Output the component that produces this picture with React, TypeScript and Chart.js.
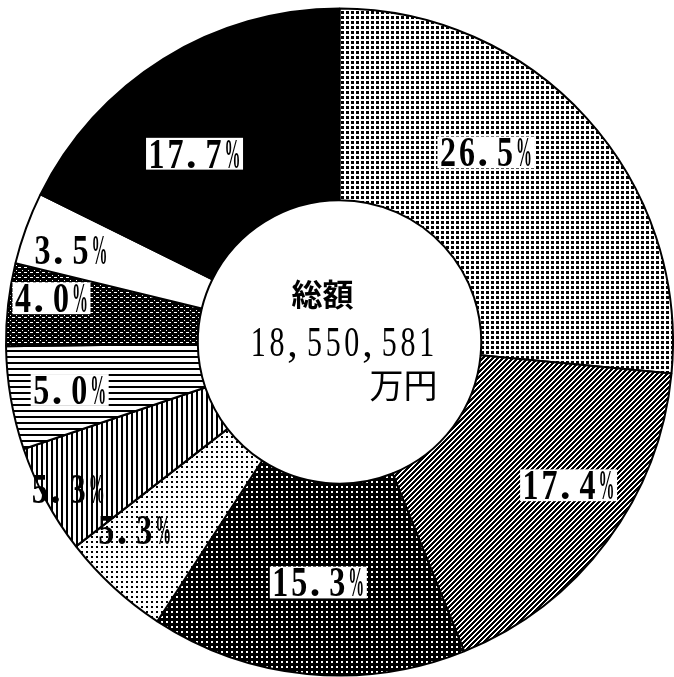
import React, { useEffect, useRef } from "react";
import { Chart, registerables } from "chart.js";

Chart.register(...registerables);

const categories = ["A", "B", "C", "D", "E", "F", "G", "H", "I"];
const shares = [26.5, 17.4, 15.3, 5.3, 5.3, 5.0, 4.0, 3.5, 17.7];
const shareLabels = ["26.5%", "17.4%", "15.3%", "5.3%", "5.3%", "5.0%", "4.0%", "3.5%", "17.7%"];
const totalTitle = "総額";
const totalValue = "18,550,581";
const totalUnit = "万円";

// label placement within each slice: fraction of the slice's angle and of the ring width
const labelAngleFrac = [0.395, 0.425, 0.49, 0.75, 0.49, 0.48, 0.65, 0.41, 0.41];
const labelRadiusFrac = [0.51, 0.67, 0.52, 0.71, 0.87, 0.69, 0.78, 0.74, 0.5];
const labelBoxed = [true, true, true, false, false, true, true, false, true];

function makePattern(w: number, h: number, draw: (c: CanvasRenderingContext2D) => void): CanvasPattern | string {
  const cv = document.createElement("canvas");
  cv.width = w;
  cv.height = h;
  const c = cv.getContext("2d")!;
  draw(c);
  const p = c.createPattern(cv, "repeat");
  return p || "#888";
}

function buildFills(): (CanvasPattern | string)[] {
  const dotsDark = makePattern(5, 5, (c) => {
    c.fillStyle = "#fff"; c.fillRect(0, 0, 5, 5);
    c.fillStyle = "#000"; c.fillRect(1, 1, 3, 3);
  });
  const diag = makePattern(5, 5, (c) => {
    c.fillStyle = "#fff"; c.fillRect(0, 0, 5, 5);
    c.fillStyle = "#000";
    for (let y = 0; y < 5; y++) {
      const x = (4 - y + 5) % 5;
      c.fillRect(x, y, 1, 1);
      c.fillRect((x + 1) % 5, y, 1, 1);
      c.fillRect((x + 2) % 5, y, 1, 1);
    }
  });
  const cross = makePattern(5, 5, (c) => {
    c.fillStyle = "#000"; c.fillRect(0, 0, 5, 5);
    c.fillStyle = "#fff"; c.fillRect(1, 1, 2, 2);
  });
  const dotsLight = makePattern(5, 5, (c) => {
    c.fillStyle = "#fff"; c.fillRect(0, 0, 5, 5);
    c.fillStyle = "#000"; c.fillRect(1, 1, 2, 2);
  });
  const vert = makePattern(5, 5, (c) => {
    c.fillStyle = "#fff"; c.fillRect(0, 0, 5, 5);
    c.fillStyle = "#000"; c.fillRect(1, 0, 2, 5);
  });
  const horiz = makePattern(6, 6, (c) => {
    c.fillStyle = "#fff"; c.fillRect(0, 0, 6, 6);
    c.fillStyle = "#000"; c.fillRect(0, 2, 6, 2);
  });
  const darkSpeck = makePattern(6, 5, (c) => {
    c.fillStyle = "#000"; c.fillRect(0, 0, 6, 5);
    c.fillStyle = "#fff";
    c.fillRect(0, 2, 3, 1);
    c.fillRect(4, 0, 1, 1);
  });
  return [dotsDark, diag, cross, dotsLight, vert, horiz, darkSpeck, "#ffffff", "#000000"];
}

function drawCells(
  ctx: CanvasRenderingContext2D,
  text: string,
  cx: number,
  cy: number,
  cell: number,
  size: number,
  maxInk: number,
  boxed: boolean,
  weight: string
) {
  const chars = Array.from(text);
  const total = chars.length * cell;
  const x0 = cx - total / 2;
  const digitH = size * 0.662;
  if (boxed) {
    ctx.fillStyle = "#fff";
    ctx.fillRect(x0 - 1, cy - digitH / 2 - 2, total + 2, digitH + 4);
  }
  ctx.fillStyle = "#000";
  ctx.font = `${weight} ${size}px "Liberation Serif", serif`;
  ctx.textBaseline = "alphabetic";
  chars.forEach((ch, i) => {
    const cellX = x0 + i * cell;
    if (ch === "." || ch === ",") {
      ctx.textAlign = "left";
      ctx.fillText(ch, cellX + cell * 0.05, cy + digitH / 2);
      return;
    }
    const w = ctx.measureText(ch).width;
    const sx = Math.min(1, maxInk / w);
    ctx.save();
    ctx.translate(cellX + cell / 2, cy + digitH / 2);
    ctx.scale(sx, 1);
    ctx.textAlign = "center";
    ctx.fillText(ch, 0, 0);
    ctx.restore();
  });
}

const labelPlugin = {
  id: "sliceLabels",
  afterDatasetsDraw(chart: any) {
    const ctx: CanvasRenderingContext2D = chart.ctx;
    const meta = chart.getDatasetMeta(0);
    let cxc = 0;
    let cyc = 0;
    meta.data.forEach((arc: any, i: number) => {
      const p = arc.getProps(["x", "y", "startAngle", "endAngle", "innerRadius", "outerRadius"], true);
      cxc = p.x;
      cyc = p.y;
      const a = p.startAngle + (p.endAngle - p.startAngle) * labelAngleFrac[i];
      const r = p.innerRadius + (p.outerRadius - p.innerRadius) * labelRadiusFrac[i];
      const lx = p.x + r * Math.cos(a);
      const ly = p.y + r * Math.sin(a);
      drawCells(ctx, shareLabels[i], lx, ly, 19, 42, 16, labelBoxed[i], "bold");
    });
    // centre text
    ctx.save();
    ctx.fillStyle = "#000";
    ctx.textAlign = "center";
    ctx.textBaseline = "middle";
    ctx.font = 'bold 31px "Noto Sans CJK JP", sans-serif';
    ctx.fillText(totalTitle, cxc - 17, cyc - 48);
    ctx.restore();
    drawCells(ctx, totalValue, cxc + 3, cyc, 18.7, 42, 15, false, "normal");
    ctx.save();
    ctx.fillStyle = "#000";
    ctx.textAlign = "center";
    ctx.textBaseline = "middle";
    ctx.font = '34px "Noto Sans CJK JP", sans-serif';
    ctx.fillText(totalUnit, cxc + 64, cyc + 43);
    ctx.restore();
  },
};

export default function App() {
  const ref = useRef<HTMLCanvasElement>(null);
  useEffect(() => {
    if (!ref.current) return;
    const fills = buildFills();
    const chart = new Chart(ref.current, {
      type: "doughnut",
      data: {
        labels: categories,
        datasets: [
          {
            data: shares,
            backgroundColor: fills as any,
            borderColor: "#000",
            borderWidth: 2,
          },
        ],
      },
      options: {
        responsive: false,
        animation: false,
        cutout: "42.5%",
        layout: { padding: { left: 5, right: 0, top: 7, bottom: 0 } },
        plugins: { legend: { display: false }, tooltip: { enabled: false } },
      },
      plugins: [labelPlugin],
    });
    return () => chart.destroy();
  }, []);
  return (
    <div style={{ position: "absolute", left: 0, top: 0, width: 674, height: 677, background: "#fff" }}>
      <canvas ref={ref} width={674} height={677} style={{ display: "block" }} />
    </div>
  );
}
